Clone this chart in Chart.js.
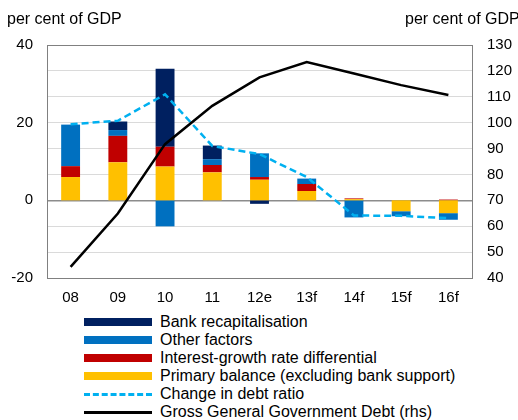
<!DOCTYPE html>
<html>
<head>
<meta charset="utf-8">
<script src="https://cdn.jsdelivr.net/npm/chart.js@4/dist/chart.umd.min.js"></script>
<style>
  body { margin: 0; background: #fff; font-family: "Liberation Sans", Arial, sans-serif; }
  #wrap { position: relative; width: 518px; height: 420px; overflow: hidden; }
  #chart { position: absolute; left: 0; top: 0; }
  #legend { position: absolute; left: 84px; top: 313px; }
  .row { height: 18px; display: flex; align-items: center; font-size: 16px; color: #000; white-space: nowrap; }
  .sw { width: 68px; margin-right: 8px; flex: none; }
</style>
</head>
<body>
<div id="wrap">
  <canvas id="chart" width="518" height="310"></canvas>
  <div id="legend"></div>
</div>
<script>
"use strict";

// ---------- Data ----------
const categories = ["08", "09", "10", "11", "12e", "13f", "14f", "15f", "16f"];
const primaryBalance = [6.0, 9.8, 8.7, 7.2, 5.3, 2.4, 0.3, -2.8, -3.3];
const interestGrowth = [2.8, 6.8, 5.1, 1.9, 0.7, 1.8, 0.2, 0, 0.2];
const otherFactors = [10.7, 1.5, -6.7, 1.5, 6.1, 1.4, -4.4, -1.3, -1.7];
const bankRecap = [0, 2.2, 20.1, 3.5, -0.9, 0, 0, 0, 0];
const debtChange = [19.6, 20.5, 27.3, 14.0, 11.9, 6.0, -3.9, -4.0, -4.6];
const grossDebt = [44.3, 64.9, 91.7, 106.5, 117.5, 123.4, 119.0, 114.5, 110.7];

const leftTicks = [-20, 0, 20, 40];
const rightTicks = [40, 50, 60, 70, 80, 90, 100, 110, 120, 130];
const axisUnit = "per cent of GDP";

const FONT = "'Liberation Sans', Arial, sans-serif";

// ---------- Plugins ----------
// frame around the plot area + the two unit labels on top
const framePlugin = {
  id: "frame",
  afterDraw(chart) {
    const { ctx, chartArea: a } = chart;
    ctx.save();
    ctx.strokeStyle = "#808080";
    ctx.lineWidth = 1;
    ctx.strokeRect(Math.round(a.left) + 0.5, Math.round(a.top) + 0.5,
      Math.round(a.right - a.left), Math.round(a.bottom - a.top));
    ctx.fillStyle = "#000";
    ctx.font = "16px " + FONT;
    ctx.textBaseline = "alphabetic";
    ctx.textAlign = "left";
    ctx.fillText(axisUnit, 7, 24);
    ctx.fillText(axisUnit, 405, 24);
    ctx.restore();
  }
};

// ---------- Chart ----------
const barSets = [
  { label: "Primary balance (excluding bank support)", data: primaryBalance, color: "#FFC000" },
  { label: "Interest-growth rate differential", data: interestGrowth, color: "#C00000" },
  { label: "Other factors", data: otherFactors, color: "#0070C0" },
  { label: "Bank recapitalisation", data: bankRecap, color: "#002060" }
];

const datasets = [
  {
    type: "line", label: "Gross General Government Debt (rhs)", data: grossDebt,
    yAxisID: "y2", borderColor: "#000", borderWidth: 2.5, pointRadius: 0,
    tension: 0, order: 0, stack: "debt"
  },
  {
    type: "line", label: "Change in debt ratio", data: debtChange,
    yAxisID: "y", borderColor: "#00B0F0", borderWidth: 2.5, borderDash: [7, 4],
    pointRadius: 0, tension: 0, order: 0, stack: "change"
  }
].concat(barSets.map(s => ({
  type: "bar", label: s.label, data: s.data, yAxisID: "y",
  backgroundColor: s.color, borderWidth: 0, stack: "bars", order: 1,
  barPercentage: 0.4, categoryPercentage: 1
})));

new Chart(document.getElementById("chart"), {
  data: { labels: categories, datasets },
  options: {
    responsive: false,
    animation: false,
    layout: { padding: { top: 45, left: 0, right: 0, bottom: 0 } },
    plugins: { legend: { display: false }, tooltip: { enabled: false } },
    scales: {
      x: {
        stacked: true,
        grid: { display: false, drawTicks: false },
        border: { display: false },
        ticks: { color: "#000", font: { family: FONT, size: 15 }, padding: 11 },
        afterFit(s) { s.height = 32; }
      },
      y: {
        position: "left", stacked: true, min: -20, max: 40,
        afterBuildTicks(s) { s.ticks = leftTicks.map(v => ({ value: v })); },
        grid: { display: false, drawTicks: false },
        border: { display: false },
        ticks: { color: "#000", font: { family: FONT, size: 15 }, padding: 14 },
        afterFit(s) { s.width = 47; }
      },
      y2: {
        position: "right", min: 40, max: 130,
        afterBuildTicks(s) { s.ticks = rightTicks.map(v => ({ value: v })); },
        grid: {
          drawTicks: false,
          color: c => (c.tick && c.tick.value === 70 ? "#8c8c8c" : "#dadada"),
          lineWidth: c => (c.tick && c.tick.value === 70 ? 1.5 : 1)
        },
        border: { display: false },
        ticks: { color: "#000", font: { family: FONT, size: 15 }, padding: 15 },
        afterFit(s) { s.width = 46; }
      }
    }
  },
  plugins: [framePlugin]
});

// ---------- Legend ----------
const legendItems = [
  { label: "Bank recapitalisation", color: "#002060", kind: "bar" },
  { label: "Other factors", color: "#0070C0", kind: "bar" },
  { label: "Interest-growth rate differential", color: "#C00000", kind: "bar" },
  { label: "Primary balance (excluding bank support)", color: "#FFC000", kind: "bar" },
  { label: "Change in debt ratio", color: "#00B0F0", kind: "dash" },
  { label: "Gross General Government Debt (rhs)", color: "#000", kind: "line" }
];

const legendEl = document.getElementById("legend");
for (const item of legendItems) {
  const row = document.createElement("div");
  row.className = "row";
  const sw = document.createElement("span");
  sw.className = "sw";
  if (item.kind === "bar") {
    sw.style.height = "8px";
    sw.style.background = item.color;
  } else if (item.kind === "dash") {
    sw.style.height = "0";
    sw.style.borderTop = "3px dashed " + item.color;
  } else {
    sw.style.height = "3px";
    sw.style.background = item.color;
  }
  const txt = document.createElement("span");
  txt.textContent = item.label;
  row.appendChild(sw);
  row.appendChild(txt);
  legendEl.appendChild(row);
}
</script>
</body>
</html>
